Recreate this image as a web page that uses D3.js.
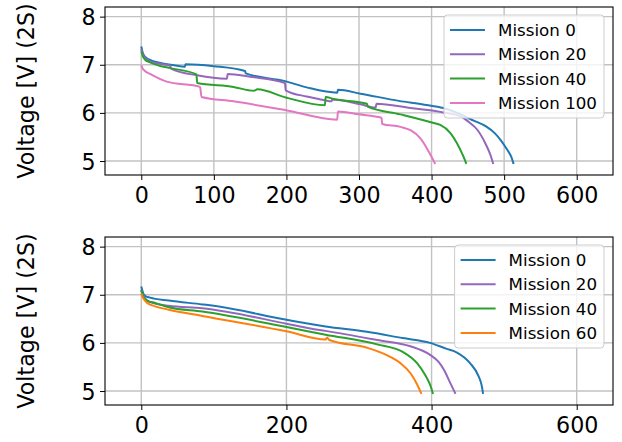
<!DOCTYPE html>
<html>
<head>
<meta charset="utf-8">
<script src="https://cdn.jsdelivr.net/npm/d3@7"></script>
<style>
  body { margin: 0; background: #fff; }
  svg { display: block; font-family: "DejaVu Sans", sans-serif; }
</style>
</head>
<body>
<script>
// ---- data: [time, voltage] ----
const topMission0 = [[0,7.38],[2,7.25],[5,7.17],[12,7.10],[25,7.04],[45,6.99],[60,6.96],[61,7.01],[100,6.97],[143,6.87],[144,6.82],[198,6.66],[228,6.53],[270,6.42],[271,6.48],[302,6.40],[355,6.25],[390,6.17],[416,6.10],[440,5.97],[458,5.84],[475,5.72],[487,5.58],[496,5.42],[504,5.24],[510,5.08],[513,4.94]];
const topMission20 = [[0,7.33],[2,7.22],[5,7.15],[12,7.07],[25,7.02],[40,6.98],[41,6.92],[77,6.78],[118,6.71],[119,6.81],[150,6.75],[198,6.62],[199,6.47],[228,6.34],[251,6.27],[262,6.24],[263,6.28],[302,6.18],[323,6.11],[324,6.19],[371,6.10],[416,6.01],[440,5.93],[453,5.79],[463,5.65],[474,5.37],[481,5.13],[485,4.94]];
const topMission40 = [[0,7.28],[2,7.18],[5,7.11],[12,7.05],[25,6.98],[40,6.93],[76,6.80],[77,6.62],[127,6.54],[155,6.46],[160,6.49],[199,6.32],[253,6.16],[254,6.33],[265,6.29],[311,6.19],[312,6.13],[357,5.97],[403,5.79],[412,5.75],[426,5.58],[435,5.37],[444,5.09],[448,4.94]];
const topMission100 = [[0,6.99],[2,6.92],[5,6.87],[12,6.81],[35,6.65],[81,6.54],[83,6.33],[127,6.24],[198,6.06],[270,5.86],[271,6.03],[300,5.97],[331,5.90],[332,5.77],[357,5.71],[371,5.64],[384,5.48],[396,5.20],[405,4.94]];

const botMission0 = [[0,7.17],[3,7.02],[6,6.97],[12,6.94],[38,6.88],[84,6.80],[100,6.77],[200,6.48],[254,6.34],[311,6.23],[360,6.10],[398,6.00],[420,5.88],[435,5.80],[453,5.58],[465,5.30],[469,5.12],[471,4.94]];
const botMission20 = [[0,7.10],[3,6.98],[8,6.88],[19,6.82],[38,6.77],[84,6.72],[200,6.40],[233,6.30],[254,6.25],[325,6.06],[371,5.93],[398,5.75],[410,5.60],[417,5.44],[426,5.16],[433,4.94]];
const botMission40 = [[0,7.10],[3,6.96],[8,6.88],[19,6.83],[38,6.74],[84,6.65],[200,6.33],[254,6.17],[325,5.97],[362,5.80],[380,5.58],[391,5.34],[399,5.09],[402,4.94]];
const botMission60 = [[0,7.02],[3,6.92],[8,6.83],[19,6.76],[38,6.69],[84,6.56],[200,6.24],[254,6.07],[256,6.11],[259,6.06],[311,5.90],[339,5.74],[357,5.58],[371,5.37],[380,5.14],[386,4.94]];

const topLabels = ["Mission 0", "Mission 20", "Mission 40", "Mission 100"];
const botLabels = ["Mission 0", "Mission 20", "Mission 40", "Mission 60"];
const topColors = ["#1f77b4", "#9467bd", "#2ca02c", "#e377c2"];
const botColors = ["#1f77b4", "#9467bd", "#2ca02c", "#ff7f0e"];

const yTicks = [5, 6, 7, 8];
const topXTicks = [0, 100, 200, 300, 400, 500, 600];
const botXTicks = [0, 200, 400, 600];
const yLabel = "Voltage [V] (2S)";

// ---- layout ----
const width = 622, height = 442;
const tickFont = 22.2, legendFont = 16.7;
const axL = 105, axR = 613;

const svg = d3.select("body").append("svg")
  .attr("width", width).attr("height", height);

function drawPanel(top, bottom, series, labels, colors, xTicks) {
  const x = d3.scaleLinear().domain([-50, 650]).range([axL, axR]);
  const y = d3.scaleLinear().domain([4.71, 8.2]).range([bottom, top]);
  const g = svg.append("g");

  // grid
  g.selectAll(".gx").data(xTicks).enter().append("line")
    .attr("x1", d => x(d)).attr("x2", d => x(d))
    .attr("y1", top).attr("y2", bottom)
    .attr("stroke", "#c2c2c2").attr("stroke-width", 1.4);
  g.selectAll(".gy").data(yTicks).enter().append("line")
    .attr("x1", axL).attr("x2", axR)
    .attr("y1", d => y(d)).attr("y2", d => y(d))
    .attr("stroke", "#c2c2c2").attr("stroke-width", 1.4);

  // lines
  const line = d3.line().x(d => x(d[0])).y(d => y(d[1])).curve(d3.curveMonotoneX);
  series.forEach((s, i) => {
    g.append("path").attr("d", line(s))
      .attr("fill", "none").attr("stroke", colors[i])
      .attr("stroke-width", 2).attr("stroke-linejoin", "round");
  });

  // axes
  const xAxis = d3.axisBottom(x).tickValues(xTicks).tickSize(5).tickPadding(7.2).tickFormat(d3.format("d"));
  const yAxis = d3.axisLeft(y).tickValues(yTicks).tickSize(5).tickPadding(4.5).tickFormat(d3.format("d"));
  const gx = g.append("g").attr("transform", "translate(0," + bottom + ")").call(xAxis);
  const gy = g.append("g").attr("transform", "translate(" + axL + ",0)").call(yAxis);
  [gx, gy].forEach(a => {
    a.select(".domain").remove();
    a.selectAll("line").attr("stroke", "#000").attr("stroke-width", 1);
    a.selectAll("text").attr("font-size", tickFont).attr("fill", "#000")
      .attr("font-family", "DejaVu Sans");
  });
  gy.selectAll("text").attr("dy", "0.36em");

  g.append("rect")
    .attr("x", axL).attr("y", top)
    .attr("width", axR - axL).attr("height", bottom - top)
    .attr("fill", "none").attr("stroke", "#000").attr("stroke-width", 1.1);

  // y label
  g.append("text")
    .attr("transform", "translate(33.5," + ((top + bottom) / 2) + ") rotate(-90)")
    .attr("text-anchor", "middle")
    .attr("font-size", tickFont)
    .text(yLabel);

  // legend
  const leg = g.append("g");
  const box = leg.append("rect");
  const rowGap = 24.3, firstRow = top + 23;
  let maxW = 0;
  labels.forEach((lab, i) => {
    const t = leg.append("text").attr("font-size", legendFont)
      .attr("y", firstRow + i * rowGap).attr("dy", "0.36em").text(lab);
    maxW = Math.max(maxW, t.node().getComputedTextLength());
  });
  const legW = 6 + 35 + 13 + maxW + 7;
  const legX = axR - 9 - legW;
  leg.selectAll("text").attr("x", legX + 54);
  labels.forEach((lab, i) => {
    leg.append("line")
      .attr("x1", legX + 6).attr("x2", legX + 41)
      .attr("y1", firstRow + i * rowGap).attr("y2", firstRow + i * rowGap)
      .attr("stroke", colors[i]).attr("stroke-width", 2);
  });
  box.attr("x", legX).attr("y", top + 8)
    .attr("width", legW).attr("height", 103)
    .attr("rx", 3.5)
    .attr("fill", "#fff").attr("fill-opacity", 0.8)
    .attr("stroke", "#cccccc").attr("stroke-width", 1);
}

drawPanel(7, 175, [topMission0, topMission20, topMission40, topMission100], topLabels, topColors, topXTicks);
drawPanel(237, 405, [botMission0, botMission20, botMission40, botMission60], botLabels, botColors, botXTicks);
</script>
</body>
</html>
